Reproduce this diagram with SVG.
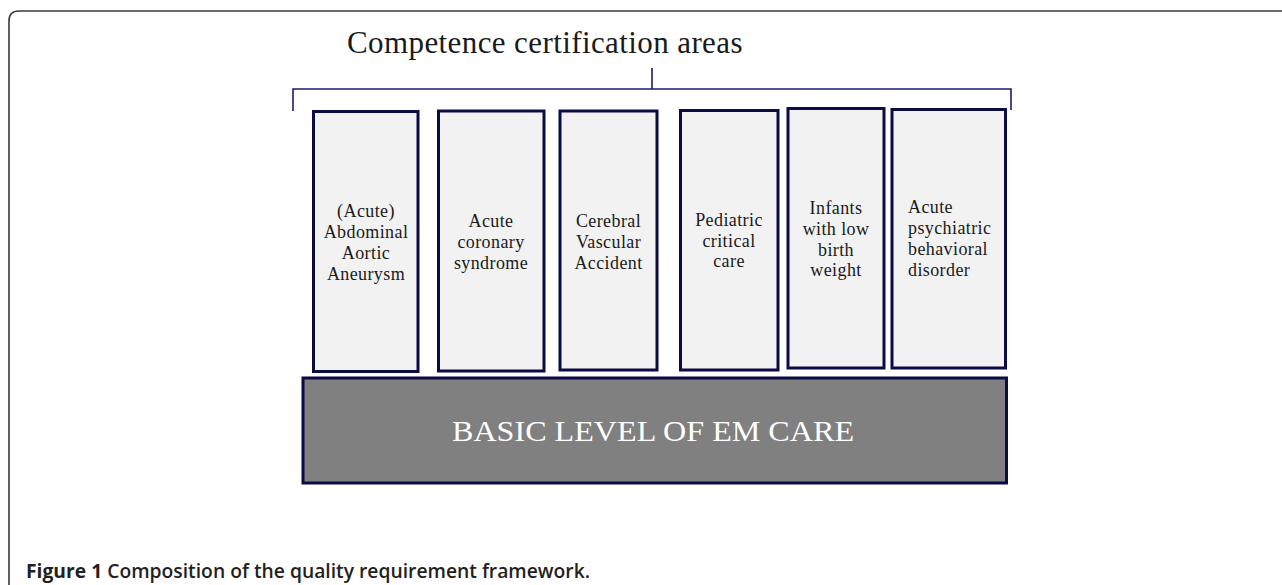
<svg xmlns="http://www.w3.org/2000/svg" width="1282" height="585" viewBox="0 0 1282 585">
<style>
.frame{fill:none;stroke:#3a3a3a;stroke-width:1.6}
.brk{fill:none;stroke:#1c1c6e;stroke-width:1.6}
.area{fill:#f2f2f2;stroke:#0b0b45;stroke-width:3}
.base{fill:#808080;stroke:#0b0b45;stroke-width:3}
.t{font-family:"Liberation Serif","Times New Roman",serif;font-size:18px;letter-spacing:0.4px;fill:#1a1a1a;text-anchor:middle}
.tl{text-anchor:start}
.title{font-family:"Liberation Serif","Times New Roman",serif;font-size:31px;letter-spacing:0.5px;fill:#1a1a1a}
.basetxt{font-family:"Liberation Serif","Times New Roman",serif;font-size:30px;fill:#ffffff}
.cap{font-family:"Open Sans","Noto Sans",sans-serif;font-size:19px;font-weight:600;fill:#231f20}
</style>
<rect width="1282" height="585" fill="#ffffff"/>
<path class="frame" d="M9,590 V21 Q9,11 19,11 H1290"/>
<text class="title" x="347" y="53" textLength="396" lengthAdjust="spacing">Competence certification areas</text>
<g id="connectors">
<path class="brk" d="M293,111 V89 H1011 V110 M652,68 V89"/>
</g>
<g id="n1">
<rect class="area" x="313.5" y="111.5" width="104.5" height="260"/>
<text class="t" x="366" y="217">(Acute)</text>
<text class="t" x="366" y="238">Abdominal</text>
<text class="t" x="366" y="259">Aortic</text>
<text class="t" x="366" y="280">Aneurysm</text>
</g>
<g id="n2">
<rect class="area" x="438.5" y="111" width="105.5" height="260"/>
<text class="t" x="491" y="227">Acute</text>
<text class="t" x="491" y="248">coronary</text>
<text class="t" x="491" y="269">syndrome</text>
</g>
<g id="n3">
<rect class="area" x="560" y="111" width="97" height="259"/>
<text class="t" x="608.5" y="227">Cerebral</text>
<text class="t" x="608.5" y="248">Vascular</text>
<text class="t" x="608.5" y="269">Accident</text>
</g>
<g id="n4">
<rect class="area" x="680.5" y="110.5" width="97.5" height="259.5"/>
<text class="t" x="729" y="226">Pediatric</text>
<text class="t" x="729" y="247">critical</text>
<text class="t" x="729" y="267">care</text>
</g>
<g id="n5">
<rect class="area" x="788" y="108.5" width="96" height="259.5"/>
<text class="t" x="836" y="214">Infants</text>
<text class="t" x="836" y="235">with low</text>
<text class="t" x="836" y="256">birth</text>
<text class="t" x="836" y="276">weight</text>
</g>
<g id="n6">
<rect class="area" x="892" y="109.5" width="113.5" height="258.5"/>
<text class="t tl" x="908" y="213">Acute</text>
<text class="t tl" x="908" y="234">psychiatric</text>
<text class="t tl" x="908" y="255">behavioral</text>
<text class="t tl" x="908" y="276">disorder</text>
</g>
<g id="base">
<rect class="base" x="303" y="378" width="703.5" height="105"/>
<text class="basetxt" x="452" y="441" textLength="402" lengthAdjust="spacingAndGlyphs">BASIC LEVEL OF EM CARE</text>
</g>
<text class="cap" x="26" y="578" textLength="564" lengthAdjust="spacingAndGlyphs"><tspan font-weight="bold">Figure 1</tspan> Composition of the quality requirement framework.</text>
</svg>
